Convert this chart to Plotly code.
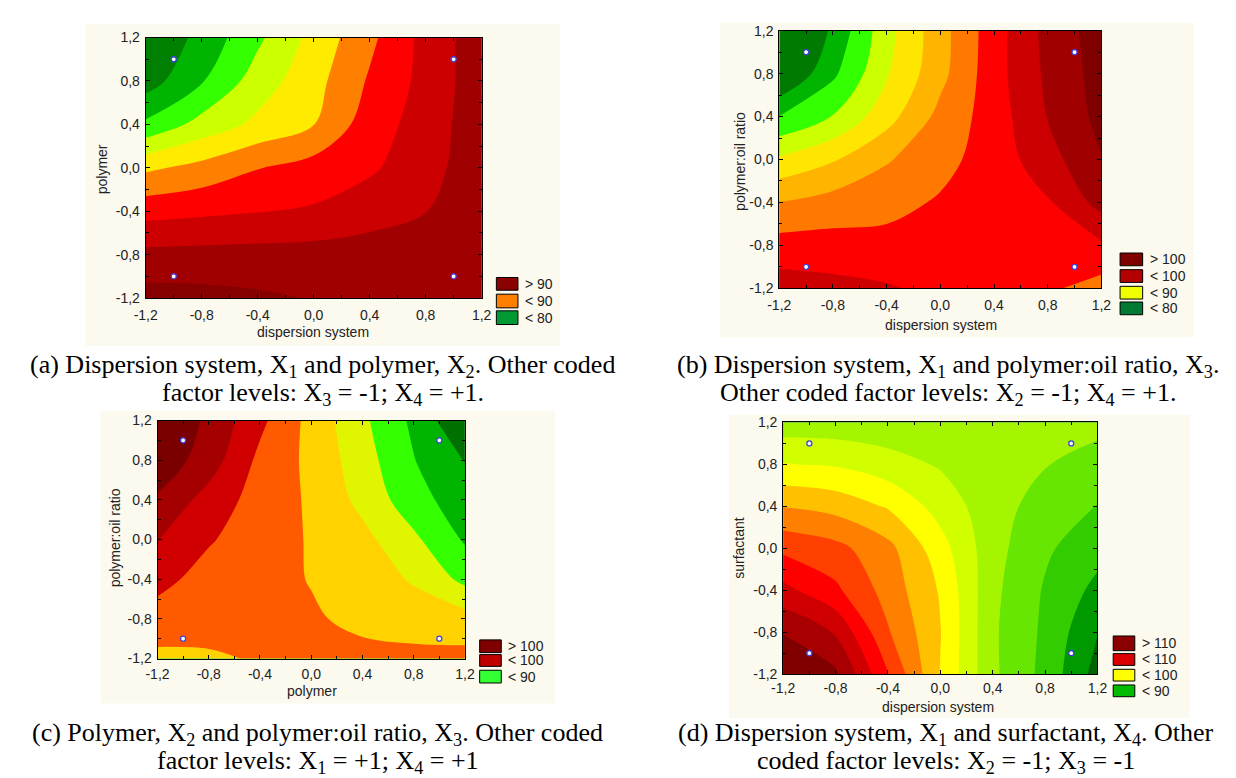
import plotly.graph_objects as go

W, H = 1236, 778

# ---------------- data ----------------
GRID = [-1.2, -0.8, -0.4, 0.0, 0.4, 0.8, 1.2]          # coded levels (x and y)
TICK_VALS = [-1.2, -0.8, -0.4, 0.0, 0.4, 0.8, 1.2]
TICK_TEXT = ["-1,2", "-0,8", "-0,4", "0,0", "0,4", "0,8", "1,2"]
MINOR_VALS = [-1.0, -0.6, -0.2, 0.2, 0.6, 1.0]

DESIGN_X = [-1, 1, -1, 1]
DESIGN_Y = [1, 1, -1, -1]

# response values, rows: y = -1.2 ... 1.2, columns: x = -1.2 ... 1.2
Z_A = [
    [91.0, 90.8, 90.4, 89.9, 89.5, 89.1, 88.9],
    [88.2, 88.3, 88.4, 88.5, 88.6, 88.8, 88.9],
    [84.1, 84.5, 84.9, 85.3, 86.5, 87.45, 88.9],
    [79.5, 80.8, 82.4, 83.5, 84.6, 86.6, 89.0],
    [73.0, 75.9, 78.1, 79.95, 83.8, 86.1, 89.1],
    [68.8, 72.3, 76.2, 79.1, 82.8, 85.8, 89.0],
    [67.5, 70.8, 74.5, 78.3, 81.9, 85.8, 89.0],
]
Z_B = [
    [96.25, 95.75, 95.25, 94.4, 93.6, 92.9, 91.5],
    [93.5, 93.5, 93.25, 93.0, 93.0, 93.25, 94.6],
    [90.05, 91.0, 91.75, 92.75, 93.4, 94.75, 98.4],
    [85.4, 87.25, 89.75, 91.75, 93.6, 96.5, 99.9],
    [80.05, 82.6, 86.5, 90.75, 93.7, 97.6, 100.75],
    [74.5, 79.5, 84.75, 89.25, 94.0, 98.0, 101.0],
    [72.5, 78.0, 84.1, 89.05, 93.9, 98.3, 101.25],
]
Z_C = [
    [91.9, 92.1, 92.75, 93.1, 93.1, 93.25, 93.25],
    [93.95, 93.75, 93.5, 92.75, 92.0, 91.25, 91.0],
    [95.8, 94.0, 93.25, 92.4, 91.25, 89.75, 86.85],
    [97.6, 95.25, 93.6, 92.3, 90.75, 88.0, 84.7],
    [99.65, 96.5, 93.95, 92.15, 89.3, 86.0, 83.6],
    [101.7, 98.75, 94.4, 91.9, 88.6, 85.1, 82.4],
    [102.75, 99.45, 95.6, 91.7, 88.0, 84.5, 80.0],
]
Z_D = [
    [111.75, 110.5, 102.6, 94.9, 88.0, 84.25, 79.0],
    [109.9, 107.25, 100.25, 95.1, 87.9, 84.5, 80.1],
    [105.75, 103.0, 99.0, 94.75, 88.1, 84.75, 81.8],
    [101.9, 100.75, 98.25, 93.5, 88.4, 85.4, 83.4],
    [97.4, 96.6, 94.75, 91.5, 88.5, 86.5, 84.9],
    [92.6, 92.25, 91.0, 89.75, 88.25, 87.6, 86.7],
    [88.6, 88.5, 88.4, 88.25, 88.2, 88.25, 88.1],
]

LEVELS_A = (70, 90, 2.5)
LEVELS_B = (77.5, 100, 2.5)
LEVELS_C = (82.5, 100, 2.5)
LEVELS_D = (80, 110, 2.5)

LEG_A = ["> 90", "< 90", "< 80"]
LEG_B = ["> 100", "< 100", "< 90", "< 80"]
LEG_C = ["> 100", "< 100", "< 90"]
LEG_D = ["> 110", "< 110", "< 100", "< 90"]

X_TITLES = ["dispersion system", "dispersion system", "polymer", "dispersion system"]
Y_TITLES = ["polymer", "polymer:oil ratio", "polymer:oil ratio", "surfactant"]

CAPTIONS = [
    ["(a) Dispersion system, X<sub>1</sub> and polymer, X<sub>2</sub>. Other coded",
     "factor levels: X<sub>3</sub> = -1; X<sub>4</sub> = +1."],
    ["(b) Dispersion system, X<sub>1</sub> and polymer:oil ratio, X<sub>3</sub>.",
     "Other coded factor levels: X<sub>2</sub> = -1; X<sub>4</sub> = +1."],
    ["(c) Polymer, X<sub>2</sub> and polymer:oil ratio, X<sub>3</sub>. Other coded",
     "factor levels: X<sub>1</sub> = +1; X<sub>4</sub> = +1"],
    ["(d) Dispersion system, X<sub>1</sub> and surfactant, X<sub>4</sub>. Other",
     "coded factor levels: X<sub>2</sub> = -1; X<sub>3</sub> = -1"],
]

# ---------------- styles ----------------
PAL_A = ['#007F00', '#00B400', '#33FF00', '#CCFF00', '#FFEB00', '#FF8000',
         '#FF0000', '#CC0000', '#A00000', '#870000']
PAL_B = ['#007A00', '#00B400', '#33FF00', '#CCFF00', '#FFE600', '#FFB400',
         '#FF7800', '#FF0000', '#CC0000', '#A00000', '#800000']
PAL_C = ['#007000', '#00B400', '#33FF00', '#E1F500', '#FFD200', '#FF5A00',
         '#D00000', '#A40000', '#7A0000']
PAL_D = ['#006400', '#009900', '#33CC00', '#66E600', '#A5F500', '#D2FF00',
         '#FFFF00', '#FFC000', '#FF8000', '#FF4000', '#FF0000', '#D00000',
         '#A80000', '#800000']

LEGC_A = ['#8B0000', '#FF8000', '#009933']
LEGC_B = ['#800000', '#B40000', '#F0FF00', '#007A33']
LEGC_C = ['#800000', '#C00000', '#33FF33']
LEGC_D = ['#8B0000', '#DD0000', '#FFFF00', '#00BB00']

CREAM = '#FCF9EE'
SANS = 'Liberation Sans, Arial, sans-serif'
SERIF = 'Liberation Serif, Times New Roman, serif'

PANELS = [
    dict(z=Z_A, lev=LEVELS_A, pal=PAL_A, plot=(128, 22, 470, 288), bg=(67, 8, 550, 337),
         xt=(298, 323), yt=(83, 157), legx=(485, 507),
         legy=[(267, 280), (284, 298), (301, 315)], leg=LEG_A, legc=LEGC_A,
         xstand=4, cap=(308, 357, 386)),
    dict(z=Z_B, lev=LEVELS_B, pal=PAL_B, plot=(773, 15, 1101, 278), bg=(713, 7, 1195, 328),
         xt=(938, 315), yt=(733, 148), legx=(1120, 1143),
         legy=[(242, 255), (259, 272), (276, 289), (292, 305)], leg=LEG_B, legc=LEGC_B,
         xstand=4, cap=(945, 357, 386)),
    dict(z=Z_C, lev=LEVELS_C, pal=PAL_C, plot=(140, 413, 453, 656), bg=(82, 403, 545, 702),
         xt=(297, 689), yt=(97, 533), legx=(468, 490),
         legy=[(637, 650), (652, 664), (668, 681)], leg=LEG_C, legc=LEGC_C,
         xstand=3, cap=(303, 733, 762)),
    dict(z=Z_D, lev=LEVELS_D, pal=PAL_D, plot=(777, 415, 1097, 672), bg=(722, 407, 1191, 717),
         xt=(935, 705), yt=(732, 543), legx=(1113, 1135),
         legy=[(633, 648), (651, 663), (667, 679), (683, 695)], leg=LEG_D, legc=LEGC_D,
         xstand=1, cap=(943, 733, 762)),
]


def fx(px):
    return px / W


def fy(py):
    return 1 - py / H


fig = go.Figure()
layout = dict(width=W, height=H, autosize=False,
              margin=dict(l=0, r=0, t=0, b=0, pad=0),
              paper_bgcolor='white', plot_bgcolor='rgba(0,0,0,0)',
              showlegend=False, shapes=[], annotations=[])

for i, p in enumerate(PANELS):
    n = '' if i == 0 else str(i + 1)
    start, end, size = p['lev']
    nlev = int(round((end - start) / size)) + 1
    pal = p['pal']
    cs = [[k / nlev, pal[k]] for k in range(nlev + 1)]

    fig.add_trace(go.Contour(
        x=GRID, y=GRID, z=p['z'], xaxis='x' + n, yaxis='y' + n,
        autocontour=False,
        contours=dict(start=start, end=end, size=size, coloring='fill', showlines=False),
        line=dict(width=0, smoothing=1.0),
        colorscale=cs, showscale=False, hoverinfo='skip'))

    fig.add_trace(go.Scatter(
        x=DESIGN_X, y=DESIGN_Y, xaxis='x' + n, yaxis='y' + n, mode='markers',
        marker=dict(size=5, color='white', line=dict(color='#4040E0', width=1.3)),
        hoverinfo='skip'))

    x0, y0, x1, y1 = p['plot']
    axis_common = dict(range=[-1.2, 1.2], tickmode='array', tickvals=TICK_VALS,
                       ticktext=TICK_TEXT, ticks='inside', ticklen=4, tickcolor='#000',
                       showline=True, linecolor='#000', linewidth=1, mirror='ticks',
                       showgrid=False, zeroline=False,
                       tickfont=dict(family=SANS, size=14, color='#222'),
                       minor=dict(tickmode='array', tickvals=MINOR_VALS, ticks='inside',
                                  ticklen=3, tickcolor='#000', showgrid=False))
    layout['xaxis' + n] = dict(axis_common, domain=[fx(x0), fx(x1)], anchor='y' + n,
                               ticklabelstandoff=p['xstand'])
    layout['yaxis' + n] = dict(axis_common, domain=[fy(y1), fy(y0)], anchor='x' + n,
                               ticklabelstandoff=2)

    # cream panel background
    bx0, by0, bx1, by1 = p['bg']
    layout['shapes'].append(dict(type='rect', xref='paper', yref='paper', layer='below',
                                 x0=fx(bx0), x1=fx(bx1), y0=fy(by1), y1=fy(by0),
                                 fillcolor=CREAM, line=dict(width=0)))

    # axis titles
    layout['annotations'].append(dict(text=X_TITLES[i], xref='paper', yref='paper',
                                      x=fx(p['xt'][0]), y=fy(p['xt'][1]), showarrow=False,
                                      xanchor='center', yanchor='middle',
                                      font=dict(family=SANS, size=14, color='#222')))
    layout['annotations'].append(dict(text=Y_TITLES[i], xref='paper', yref='paper',
                                      x=fx(p['yt'][0]), y=fy(p['yt'][1]), showarrow=False,
                                      textangle=-90, xanchor='center', yanchor='middle',
                                      font=dict(family=SANS, size=14, color='#222')))

    # legend boxes
    lx0, lx1 = p['legx']
    for (ly0, ly1), lab, col in zip(p['legy'], p['leg'], p['legc']):
        layout['shapes'].append(dict(type='rect', xref='paper', yref='paper',
                                     x0=fx(lx0), x1=fx(lx1), y0=fy(ly1), y1=fy(ly0),
                                     fillcolor=col, line=dict(color='#000', width=1)))
        layout['annotations'].append(dict(text=lab, xref='paper', yref='paper',
                                          x=fx(lx1 + 5), y=fy((ly0 + ly1) / 2),
                                          showarrow=False, xanchor='left', yanchor='middle',
                                          font=dict(family=SANS, size=14, color='#222')))

    # captions
    cx, cy1, cy2 = p['cap']
    for txt, cy in zip(CAPTIONS[i], (cy1, cy2)):
        layout['annotations'].append(dict(text=txt, xref='paper', yref='paper',
                                          x=fx(cx), y=fy(cy), showarrow=False,
                                          xanchor='center', yanchor='middle',
                                          font=dict(family=SERIF, size=26, color='#000')))

fig.update_layout(layout)
fig.write_html("out.html")
